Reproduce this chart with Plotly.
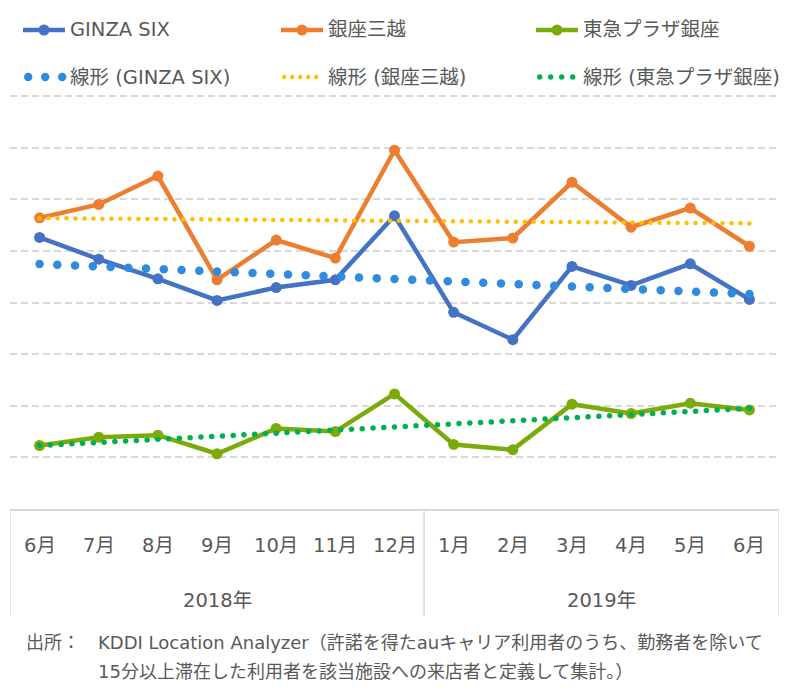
import numpy as np
import plotly.graph_objects as go

# ---------------- data ----------------
months = ["6月", "7月", "8月", "9月", "10月", "11月", "12月",
          "1月", "2月", "3月", "4月", "5月", "6月"]
years = ["2018年", "2019年"]
year_spans = [(0, 6), (7, 12)]
ginza_six = [5.26, 4.84, 4.46, 4.04, 4.29, 4.44, 5.68, 3.81, 3.28, 4.70, 4.33, 4.75, 4.06]
mitsukoshi = [5.64, 5.90, 6.45, 4.44, 5.21, 4.86, 6.95, 5.17, 5.25, 6.33, 5.46, 5.83, 5.09]
tokyu_plaza = [1.23, 1.39, 1.43, 1.07, 1.56, 1.50, 2.23, 1.25, 1.15, 2.03, 1.85, 2.05, 1.92]
series_names = ["GINZA SIX", "銀座三越", "東急プラザ銀座"]
trend_names = ["線形 (GINZA SIX)", "線形 (銀座三越)", "線形 (東急プラザ銀座)"]
footer_label = "出所："
footer_line1 = "KDDI Location Analyzer（許諾を得たauキャリア利用者のうち、勤務者を除いて"
footer_line2 = "15分以上滞在した利用者を該当施設への来店者と定義して集計。）"

# ---------------- style ----------------
colors = ["#4472C4", "#ED7D31", "#7AAB0A"]
trend_colors = ["#2E8BDD", "#FFC000", "#00B050"]
trend_dot_count = [40, 79, 66]
trend_dot_size = [8.5, 4.5, 5.5]
FONT = "DejaVu Sans, Noto Sans CJK JP, sans-serif"
TXT = "#595959"
GRID = "#D9D9D9"

W, H = 800, 699
ML, MR, MT, MB = 10, 21, 95, 190
PW, PH = W - ML - MR, H - MT - MB
YMAX = 8.02


def px(x):
    return (x - ML) / PW


def py(y):
    return (H - MB - y) / PH


fig = go.Figure()
all_series = [ginza_six, mitsukoshi, tokyu_plaza]
xi = np.arange(len(months))

for vals, name, c in zip(all_series, series_names, colors):
    fig.add_trace(go.Scatter(
        x=xi, y=vals, name=name, mode="lines+markers",
        line=dict(color=c, width=4.5), marker=dict(color=c, size=11),
        showlegend=False, cliponaxis=False))

for vals, name, c, n, s in zip(all_series, trend_names, trend_colors,
                               trend_dot_count, trend_dot_size):
    slope, intercept = np.polyfit(xi, vals, 1)
    tx = np.linspace(0, len(months) - 1, n + 1)
    fig.add_trace(go.Scatter(
        x=tx, y=slope * tx + intercept, name=name, mode="markers",
        marker=dict(color=c, size=s, line=dict(width=0)),
        showlegend=False, cliponaxis=False))

shapes = []
annotations = []

# category box
for xv in [-0.5, 6.5, 12.5]:
    shapes.append(dict(type="line", xref="x", yref="paper", x0=xv, x1=xv,
                       y0=0, y1=py(616), line=dict(color=GRID, width=1.5)))
for i, m in enumerate(months):
    annotations.append(dict(x=i, y=py(545), xref="x", yref="paper", text=m,
                            showarrow=False, xanchor="center", yanchor="middle",
                            font=dict(family=FONT, size=19.5, color=TXT)))
for yr, (a, b) in zip(years, year_spans):
    annotations.append(dict(x=(a + b) / 2, y=py(600), xref="x", yref="paper", text=yr,
                            showarrow=False, xanchor="center", yanchor="middle",
                            font=dict(family=FONT, size=19.5, color=TXT)))

# legend (manual)
leg_cols = [(23, 68), (281, 326), (536, 581)]
row1, row2 = 30, 77
dot_specs = [(3, 17, 4.2), (5, 8, 2.2), (4, 11, 2.7)]
for k in range(3):
    x0, tx0 = leg_cols[k]
    c = colors[k]
    shapes.append(dict(type="line", xref="paper", yref="paper",
                       x0=px(x0), x1=px(x0 + 42), y0=py(row1), y1=py(row1),
                       line=dict(color=c, width=4.5)))
    cx = x0 + 21
    shapes.append(dict(type="circle", xref="paper", yref="paper",
                       x0=px(cx - 5.5), x1=px(cx + 5.5), y0=py(row1 + 5.5), y1=py(row1 - 5.5),
                       fillcolor=c, line=dict(width=0)))
    annotations.append(dict(x=px(tx0), y=py(row1), xref="paper", yref="paper",
                            text=series_names[k], showarrow=False,
                            xanchor="left", yanchor="middle",
                            font=dict(family=FONT, size=19.5, color=TXT)))
    n, sp, r = dot_specs[k]
    for j in range(n):
        dx = x0 + 1 + r + j * sp
        shapes.append(dict(type="circle", xref="paper", yref="paper",
                           x0=px(dx - r), x1=px(dx + r), y0=py(row2 + r), y1=py(row2 - r),
                           fillcolor=trend_colors[k], line=dict(width=0)))
    annotations.append(dict(x=px(tx0), y=py(row2), xref="paper", yref="paper",
                            text=trend_names[k], showarrow=False,
                            xanchor="left", yanchor="middle",
                            font=dict(family=FONT, size=19.5, color=TXT)))

# footer
annotations.append(dict(x=px(24), y=py(642), xref="paper", yref="paper", text=footer_label,
                        showarrow=False, xanchor="left", yanchor="middle",
                        font=dict(family=FONT, size=18, color=TXT)))
annotations.append(dict(x=px(96), y=py(642), xref="paper", yref="paper", text=footer_line1,
                        showarrow=False, xanchor="left", yanchor="middle",
                        font=dict(family=FONT, size=18, color=TXT)))
annotations.append(dict(x=px(96), y=py(671), xref="paper", yref="paper", text=footer_line2,
                        showarrow=False, xanchor="left", yanchor="middle",
                        font=dict(family=FONT, size=18, color=TXT)))

fig.update_layout(
    width=W, height=H,
    margin=dict(l=ML, r=MR, t=MT, b=MB),
    paper_bgcolor="white", plot_bgcolor="white",
    shapes=shapes, annotations=annotations,
    showlegend=False,
    xaxis=dict(range=[-0.5, 12.5], showticklabels=False, showgrid=False,
               zeroline=False, showline=True, linecolor=GRID, linewidth=1.5,
               ticks=""),
    yaxis=dict(range=[0, YMAX], dtick=1, showticklabels=False, showgrid=True,
               gridcolor=GRID, gridwidth=1.5, griddash="7px,4px",
               zeroline=False, ticks=""),
)

fig.write_html("out.html", config={"displayModeBar": False},
               post_script="document.body.style.margin='0';document.body.style.overflow='hidden';")
